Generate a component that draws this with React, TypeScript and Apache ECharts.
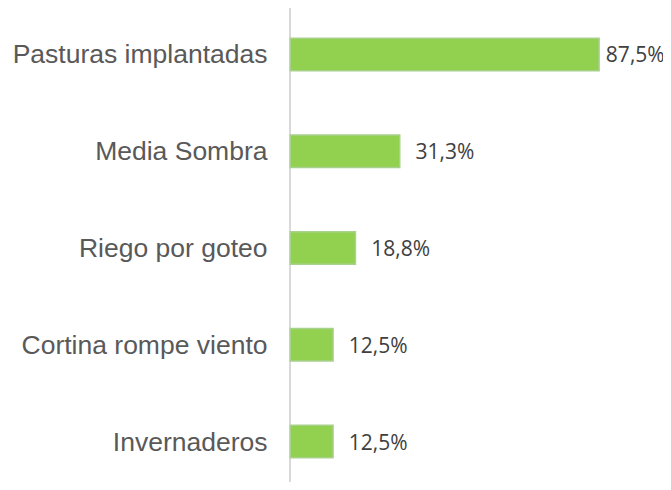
import React, { useEffect, useRef } from "react";
import * as echarts from "echarts";

const categories = [
  "Pasturas implantadas",
  "Media Sombra",
  "Riego por goteo",
  "Cortina rompe viento",
  "Invernaderos",
];
const values = [87.5, 31.3, 18.8, 12.5, 12.5];

export default function App() {
  const ref = useRef<HTMLDivElement>(null);
  useEffect(() => {
    if (!ref.current) return;
    const chart = echarts.init(ref.current, null, { renderer: "svg" });
    chart.setOption({
      animation: false,
      backgroundColor: "#ffffff",
      grid: { left: 289.5, top: 6, width: 354.7, height: 488 },
      xAxis: {
        type: "value",
        min: 0,
        max: 100,
        show: false,
      },
      yAxis: {
        type: "category",
        data: categories,
        inverse: true,
        axisLine: { show: true, lineStyle: { color: "#d9d9d9", width: 2 } },
        axisTick: { show: false },
        splitLine: { show: false },
        axisLabel: {
          margin: 22,
          color: "#595959",
          fontFamily: "Liberation Sans, Arial, sans-serif",
          fontSize: 26.5,
        },
      },
      series: [
        {
          type: "bar",
          barWidth: 34,
          data: values.map((v, i) => ({
            value: v,
            label: { distance: i === 0 ? 6 : 15 },
          })),
          itemStyle: {
            color: "#92d050",
            borderColor: "#a9d18e",
            borderWidth: 1.5,
          },
          label: {
            show: true,
            position: "right",
            color: "#404040",
            fontFamily: "Open Sans, sans-serif",
            fontSize: 21,
            formatter: (p: any) => p.value.toFixed(1).replace(".", ",") + "%",
          },
        },
      ],
    });
    return () => chart.dispose();
  }, []);
  return <div ref={ref} style={{ width: 671, height: 490, margin: -8 }} />;
}
